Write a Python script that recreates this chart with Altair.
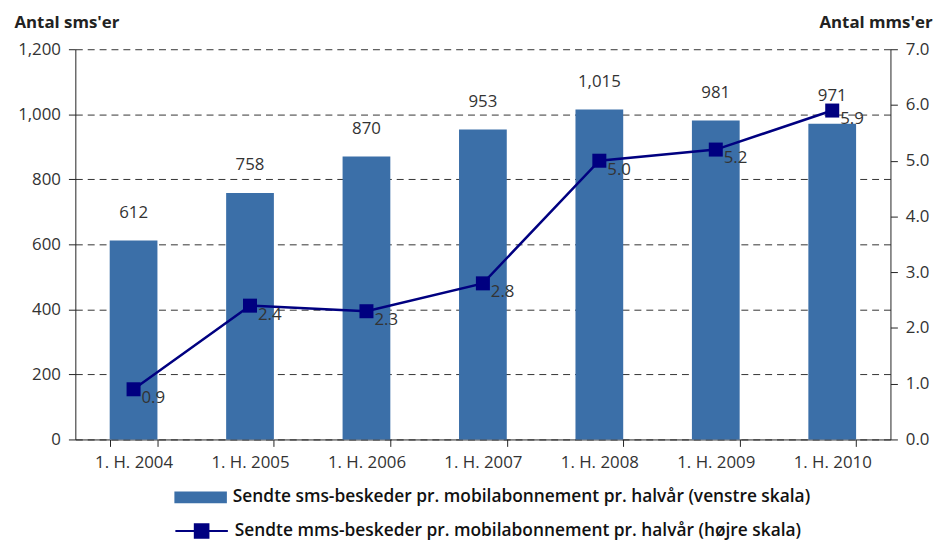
import altair as alt
import pandas as pd

periods = ["1. H. 2004", "1. H. 2005", "1. H. 2006", "1. H. 2007", "1. H. 2008", "1. H. 2009", "1. H. 2010"]
sms = [612, 758, 870, 953, 1015, 981, 971]
mms = [0.9, 2.4, 2.3, 2.8, 5.0, 5.2, 5.9]
sms_name = "Sendte sms-beskeder pr. mobilabonnement pr. halvår (venstre skala)"
mms_name = "Sendte mms-beskeder pr. mobilabonnement pr. halvår (højre skala)"

df = pd.DataFrame({"period": periods, "sms": sms, "mms": mms,
                   "s1": [sms_name] * 7, "s2": [mms_name] * 7})

FONT = "Open Sans"
BAR = "#3B6FA8"
NAVY = "#000080"
TXT = "#333333"
FS = 17

xenc = alt.X("period:N", sort=periods, title=None,
             scale=alt.Scale(paddingInner=0.59, paddingOuter=0.295),
             axis=alt.Axis(labelAngle=0, labelFontSize=FS, labelColor=TXT, labelFont=FONT,
                           tickBand="extent", tickSize=7, tickColor="#222", domainColor="#222",
                           labelPadding=8, grid=False))

base = alt.Chart(df)

bars = base.mark_bar(color=BAR).encode(
    x=xenc,
    y=alt.Y("sms:Q", scale=alt.Scale(domain=[0, 1200], nice=False),
            axis=alt.Axis(values=[0, 200, 400, 600, 800, 1000, 1200], format=",.0f",
                          title="Antal sms'er", titleAngle=0, titleX=-62, titleY=-22,
                          titleAlign="left", titleBaseline="alphabetic", titleFontSize=17,
                          titleFont=FONT, titleFontWeight="bold", titleColor="#222",
                          labelFontSize=FS, labelFont=FONT, labelColor=TXT, labelPadding=8,
                          tickSize=7, tickColor="#222", domainColor="#222",
                          grid=True, gridDash=[7, 5], gridColor="#333", gridWidth=1)),
    color=alt.Color("s1:N", scale=alt.Scale(range=[BAR]), title=None,
                    legend=alt.Legend(orient="none", legendX=100, legendY=426,
                                      symbolType="M-1,-0.226H1V0.226H-1Z", symbolSize=2809,
                                      symbolStrokeWidth=0, labelFontSize=17.5, labelFont=FONT,
                                      labelFontWeight=600, labelColor="#111", labelOffset=6,
                                      labelLimit=800)),
)

bar_text = base.mark_text(baseline="middle", dy=-28, fontSize=FS, font=FONT, color=TXT).encode(
    x=alt.X("period:N", sort=periods),
    y=alt.Y("sms:Q"),
    text=alt.Text("sms:Q", format=",.0f"),
)

left = alt.layer(bars, bar_text)

yright = alt.Y("mms:Q", scale=alt.Scale(domain=[0, 7], nice=False),
               axis=alt.Axis(orient="right", values=[0, 1, 2, 3, 4, 5, 6, 7], format=".1f",
                             title="Antal mms'er", titleAngle=0, titleX=42, titleY=-22,
                             titleAlign="right", titleBaseline="alphabetic", titleFontSize=17,
                             titleFont=FONT, titleFontWeight="bold", titleColor="#222",
                             labelFontSize=FS, labelFont=FONT, labelColor=TXT, labelPadding=8,
                             tickSize=7, tickColor="#222", domainColor="#222", grid=False))

line = base.mark_line(color=NAVY, strokeWidth=2.5).encode(
    x=alt.X("period:N", sort=periods), y=yright)

points = base.mark_point(shape="square", filled=True, size=200, opacity=1).encode(
    x=alt.X("period:N", sort=periods), y=yright,
    fill=alt.Fill("s2:N", scale=alt.Scale(range=[NAVY]), title=None,
                  legend=alt.Legend(orient="none", legendX=100, legendY=459,
                                    symbolType="M-1,0H1M-0.26,-0.26H0.26V0.26H-0.26Z",
                                    symbolSize=2809, symbolStrokeColor=NAVY, symbolStrokeWidth=2,
                                    labelFontSize=17.5, labelFont=FONT, labelFontWeight=600,
                                    labelColor="#111", labelOffset=6, labelLimit=800)),
)

line_text = base.mark_text(align="left", baseline="middle", dx=8, dy=9, fontSize=FS,
                           font=FONT, color=TXT).encode(
    x=alt.X("period:N", sort=periods), y=yright,
    text=alt.Text("mms:Q", format=".1f"),
)

right = alt.layer(line, points, line_text)

chart = alt.layer(left, right).resolve_scale(y="independent").properties(
    width=823, height=394,
    padding={"left": 6, "top": 3, "right": 5, "bottom": 5},
).configure_view(stroke=None)

chart.save("out.html", embed_options={"renderer": "svg", "actions": False})
